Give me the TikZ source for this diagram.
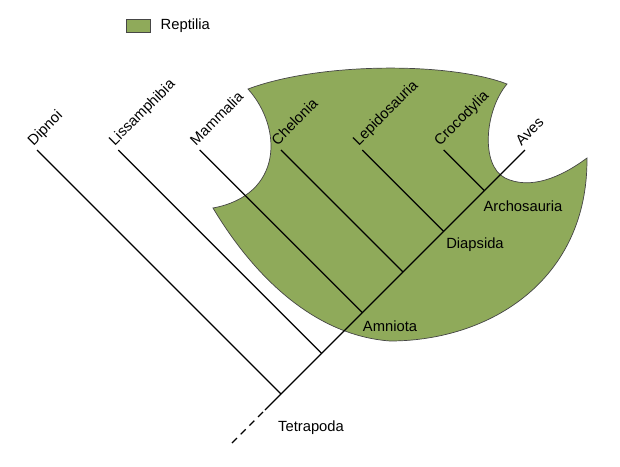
\documentclass[tikz,border=0pt]{standalone}
\usepackage{fontspec}
\setmainfont{Liberation Sans}
\usetikzlibrary{positioning}
\definecolor{reptgreen}{RGB}{143,170,90}
\definecolor{blobgray}{RGB}{70,70,70}

\begin{document}
\begin{tikzpicture}[
  x=0.02cm, y=-0.02cm,
  every node/.style={font=\fontsize{8.4}{10}\selectfont},
  branch/.style={line width=0.7pt},
  taxon/.style={rotate=45, anchor=base west, inner sep=0pt, yshift=3pt},
  clade/.style={inner sep=0pt},
]
\useasboundingbox (0,0) rectangle (620,467);

%% Reptilia region
\fill[reptgreen, draw=blobgray, line width=0.4pt]
  (213,208) .. controls (250,270) and (310,335) .. (390,341)
  .. controls (490,341) and (588,280) .. (587,158)
  .. controls (560,178) and (530,190) .. (505,178)
  .. controls (480,165) and (485,110) .. (507,84)
  .. controls (450,62) and (320,62) .. (248,89)
  .. controls (283,128) and (283,195) .. (213,208) -- cycle;

%% Legend
\node (legbox) [draw=blobgray, fill=reptgreen, minimum width=0.48cm,
  minimum height=0.26cm, inner sep=0pt] at (138,26) {};
\node (leglab) [right=0.2cm of legbox, clade] {Reptilia};

%% Tips (y=150) and their nodes on the stem (x+y=675)
\foreach \i/\name/\lab in {
  0/dip/Dipnoi,
  1/lis/Lissamphibia,
  2/mam/Mammalia,
  3/che/Chelonia,
  4/lep/Lepidosauria,
  5/cro/Crocodylia,
  6/ave/Aves%
}{
  \pgfmathsetmacro\tx{37+81.33*\i}
  \coordinate (\name) at (\tx,150);
  \coordinate (\name-n) at ({(525+\tx)/2},{(825-\tx)/2});
  \node[taxon] (\name-lab) at (\name) {\lab};
}

%% Stem
\coordinate (base) at (232,443);
\coordinate (stem) at (265,410);
\draw[branch, dash pattern=on 4pt off 3pt] (base) -- (stem);
\draw[branch] (stem) -- (dip-n) -- (ave);

%% Side branches
\foreach \name in {dip,lis,mam,che,lep,cro}{
  \draw[branch] (\name) -- (\name-n);
}

%% Clade names
\node[clade] (tetrapoda) at (311,428) {Tetrapoda};
\node[clade] (amniota) at (390,326) {Amniota};
\node[clade] (diapsida) at (475,245) {Diapsida};
\node[clade] (archosauria) at (523,206) {Archosauria};

\end{tikzpicture}
\end{document}
